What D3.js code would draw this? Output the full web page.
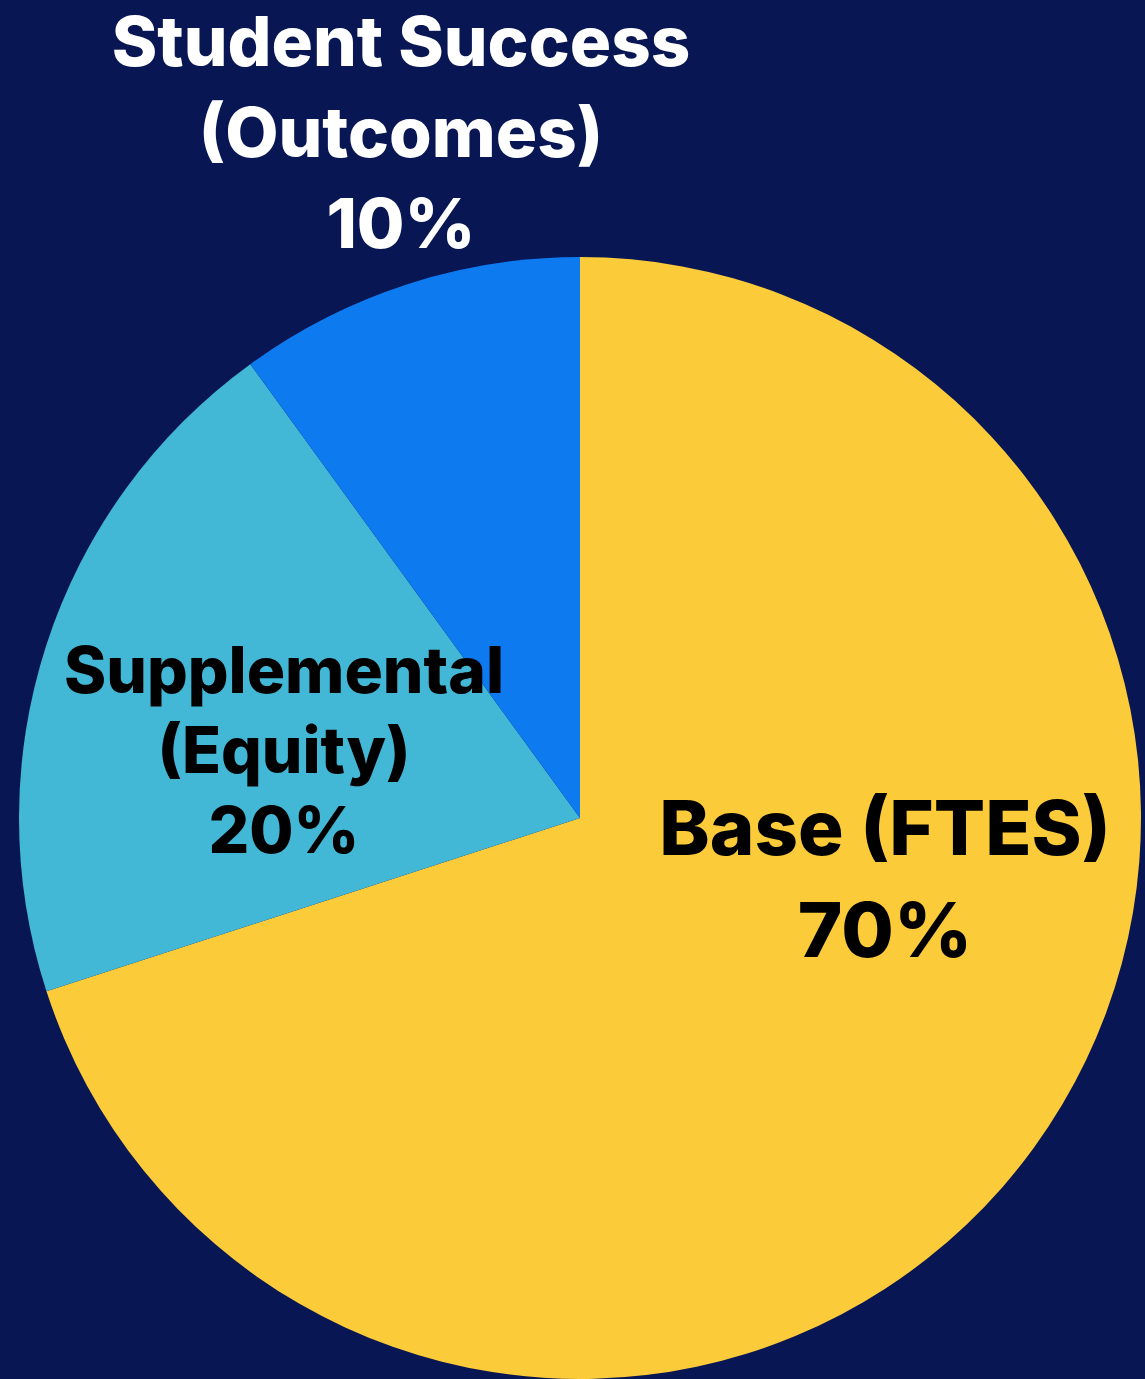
<!DOCTYPE html>
<html>
<head>
<meta charset="utf-8">
<script src="https://cdn.jsdelivr.net/npm/d3@7"></script>
<style>
  html, body { margin: 0; padding: 0; background: #091654; }
  svg { display: block; }
</style>
</head>
<body>
<script>
  // data
  var categories = ['Base (FTES)', 'Supplemental (Equity)', 'Student Success (Outcomes)'];
  var shares = [70, 20, 10];
  var labelLines = [
    ['Base (FTES)', '70%'],
    ['Supplemental', '(Equity)', '20%'],
    ['Student Success', '(Outcomes)', '10%']
  ];
  var sliceColors = ['#fbcb39', '#42b7d6', '#0e7af0'];

  var width = 1145, height = 1379;
  var cx = 580, cy = 818, radius = 561;

  // label layout: offset from pie centre, font size, line gap, colour
  var labelLayout = [
    { dx: 305, dy: 37, size: 76, gap: 102, fill: '#000' },
    { dx: -296, dy: -125, size: 64, gap: 80, fill: '#000' },
    { dx: -179, dy: -752, size: 69, gap: 91, fill: '#fff' }
  ];

  var svg = d3.select('body').append('svg')
    .attr('width', width)
    .attr('height', height);

  svg.append('rect')
    .attr('width', width)
    .attr('height', height)
    .attr('fill', '#091654');

  var pie = d3.pie().sort(null).value(function (d) { return d; });
  var arc = d3.arc().innerRadius(0).outerRadius(radius);

  var g = svg.append('g').attr('transform', 'translate(' + cx + ',' + cy + ')');

  g.selectAll('path')
    .data(pie(shares))
    .enter()
    .append('path')
    .attr('d', arc)
    .attr('fill', function (d, i) { return sliceColors[i]; });

  // labels
  var labels = g.selectAll('text.lbl')
    .data(labelLines)
    .enter()
    .append('text')
    .attr('class', 'lbl')
    .attr('text-anchor', 'middle')
    .attr('font-family', 'Inter, "DejaVu Sans", sans-serif')
    .attr('font-weight', 800)
    .attr('font-size', function (d, i) { return labelLayout[i].size; })
    .attr('fill', function (d, i) { return labelLayout[i].fill; })
    .attr('x', function (d, i) { return labelLayout[i].dx; })
    .attr('y', function (d, i) { return labelLayout[i].dy; });

  labels.each(function (lines, i) {
    var lay = labelLayout[i];
    d3.select(this).selectAll('tspan')
      .data(lines)
      .enter()
      .append('tspan')
      .attr('x', lay.dx)
      .attr('y', function (l, j) { return lay.dy + j * lay.gap; })
      .text(function (l) { return l; });
  });
</script>
</body>
</html>
